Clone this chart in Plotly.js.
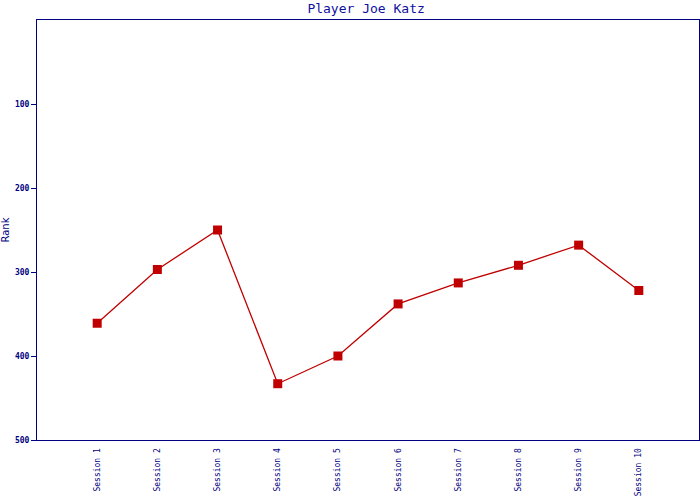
<!DOCTYPE html>
<html>
<head>
<meta charset="utf-8">
<script src="https://cdn.plot.ly/plotly-3.0.1.min.js"></script>
<style>html,body{margin:0;padding:0;background:#fff;}#chart{width:700px;height:500px;}</style>
</head>
<body>
<div id="chart"></div>
<script>
const sessions = ["Session 1","Session 2","Session 3","Session 4","Session 5","Session 6","Session 7","Session 8","Session 9","Session 10"];
const ranks = [361, 297, 250, 433, 400, 338, 313, 292, 268, 322];
const rankTicks = [100, 200, 300, 400, 500];

const navy = '#000080';
const trace = {
  x: sessions, y: ranks, type: 'scatter', mode: 'lines+markers',
  line: {color: '#c00000', width: 1.3},
  marker: {symbol: 'square', size: 9, color: '#c00000'},
  hoverinfo: 'none'
};
const layout = {
  width: 700, height: 500,
  margin: {l: 37, r: 1, t: 20, b: 60, pad: 0},
  paper_bgcolor: '#fff', plot_bgcolor: '#fff',
  showlegend: false,
  title: {text: 'Player Joe Katz', x: 0.523, xanchor: 'center', y: 0.993, yanchor: 'top',
    font: {family: 'DejaVu Sans Mono', size: 13, color: '#1010a0'}},
  xaxis: {
    type: 'category', range: [-1, 10], showgrid: false, zeroline: false,
    showline: true, linecolor: navy, linewidth: 1, mirror: true,
    ticks: '', tickangle: -90, ticklabelstandoff: 4,
    tickfont: {family: 'DejaVu Sans Mono', size: 8, color: navy}
  },
  yaxis: {
    range: [500, 0], showgrid: false, zeroline: false,
    showline: true, linecolor: navy, linewidth: 1, mirror: true,
    ticks: 'outside', ticklen: 5, tickcolor: navy, tickwidth: 1,
    tickvals: rankTicks, ticktext: rankTicks.map(String),
    tickfont: {family: 'DejaVu Sans Mono', size: 8, weight: 'bold', color: navy},
    title: {text: 'Rank', standoff: 4, font: {family: 'DejaVu Sans', size: 10, color: navy}}
  }
};
Plotly.newPlot('chart', [trace], layout, {staticPlot: true, displayModeBar: false});
</script>
</body>
</html>
